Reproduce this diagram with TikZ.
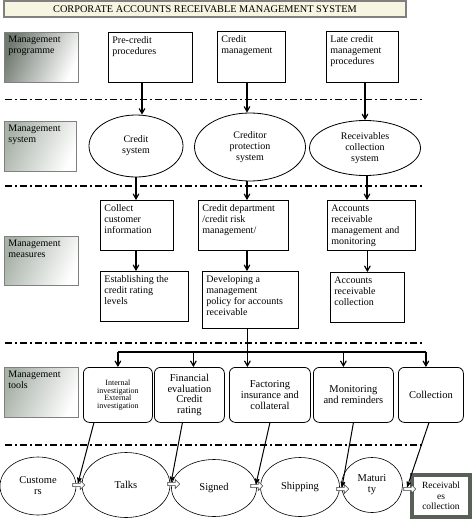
\documentclass[tikz,border=0pt]{standalone}
\usepackage{fontspec}
\setmainfont{Liberation Serif}
\usetikzlibrary{arrows, positioning, shapes}
\definecolor{my_darkgray}{RGB}{112, 122, 112}
\definecolor{my_gray}{RGB}{168, 178, 168}
\definecolor{my_beige}{RGB}{246, 245, 226}
\definecolor{my_frame}{RGB}{88, 96, 88}
\newcommand{\tb}[3]{\parbox[c][#2][t]{#1}{\raggedright #3}}
\tikzset {
  title/.style = {draw=gray, line width=1.2pt, fill=my_beige, rectangle, minimum width=402, minimum height=16, inner sep=0pt, font=\fontsize{10.3}{12}\selectfont},
  headbox/.style = {draw=gray, thick, rectangle, anchor=north west, inner sep=4pt, left color=#1, right color=white, shading angle=65},
  box/.style = {draw, thick, rectangle, fill=white, anchor=north west, inner sep=4pt},
  sys/.style = {draw, thick, ellipse, fill=white, align=center, inner sep=0pt},
  tool/.style = {draw, thick, rounded corners=6pt, rectangle, fill=white, anchor=north west, align=center, inner sep=2pt, minimum height=55, font=\fontsize{10.5}{10.8}\selectfont},
  stage/.style = {draw, semithick, ellipse, fill=white, align=center, inner sep=0pt, font=\fontsize{10.5}{11}\selectfont},
  endbox/.style = {draw=my_frame, line width=3.5pt, rectangle, fill=white, align=center, minimum width=58, minimum height=42, inner sep=1pt, font=\fontsize{9.5}{10.5}\selectfont},
  flow/.style = {draw=black!75, semithick, single arrow, fill=white, minimum height=12pt, minimum width=9pt, single arrow head extend=1.5pt, inner sep=0.5pt},
  line/.style = {->, line width=1.2pt, color=black, >=angle 60},
  diag/.style = {->, line width=1pt, color=black, >=stealth'},
  sep/.style = {line width=1.6pt, dash pattern=on 7pt off 3pt on 2pt off 3pt},
}

\begin{document}
\begin{tikzpicture}[x=1pt, y=-1pt, font=\fontsize{10}{11}\selectfont]
    \useasboundingbox (0,0) rectangle (474,527);

    \node[title] (title) at (205,9) {CORPORATE ACCOUNTS RECEIVABLE MANAGEMENT SYSTEM};

    % separators
    \foreach \y in {99.5,186,343,445}
        \draw[sep] (5,\y) -- (422,\y);

    % management programme
    \node[headbox=my_darkgray] (mprog) at (4,32) {\tb{66pt}{42pt}{Management\\programme}};
    \node[box] (pre) at (108,32) {\tb{76pt}{42pt}{Pre-credit\\procedures}};
    \node[box] (cmgmt) at (217,31) {\tb{60pt}{43pt}{Credit\\management}};
    \node[box] (late) at (326,31) {\tb{64pt}{43pt}{Late credit\\management\\procedures}};

    % management system
    \node[headbox=my_gray] (msys) at (4,121) {\tb{64pt}{42pt}{Management\\system}};
    \node[sys, minimum width=94, minimum height=62] (csys) at (136,146) {Credit\\system};
    \node[sys, minimum width=111, minimum height=68] (cprot) at (250,147) {Creditor\\protection\\system};
    \node[sys, minimum width=111, minimum height=55] (rcsys) at (365,148) {Receivables\\collection\\system};

    \draw[line] ([xshift=6pt]csys.north |- pre.south) -- ([xshift=6pt]csys.north);
    \draw[line] ([xshift=-3pt]cprot.north |- cmgmt.south) -- ([xshift=-3pt]cprot.north);
    \draw[line] (rcsys.north |- late.south) -- (rcsys.north);

    % management measures
    \node[headbox=my_gray] (mmeas) at (4,236) {\tb{66pt}{41pt}{Management\\measures}};
    \node[box] (coll) at (100,200) {\tb{65pt}{42pt}{Collect\\customer\\information}};
    \node[box] (cdep) at (198,200) {\tb{82pt}{42pt}{Credit department\\/credit risk\\management/}};
    \node[box] (armon) at (327,200) {\tb{80pt}{42pt}{Accounts\\receivable\\management and\\monitoring}};
    \node[box] (est) at (100,271) {\tb{80pt}{42pt}{Establishing the\\credit rating\\levels}};
    \node[box] (dev) at (202,271) {\tb{88pt}{49pt}{Developing a\\management\\policy for accounts\\receivable}};
    \node[box] (arcol) at (330,272) {\tb{66pt}{42pt}{Accounts\\receivable\\collection}};

    \draw[line] (csys.south) -- (csys.south |- coll.north);
    \draw[line] ([xshift=-3pt]cprot.south) -- ([xshift=-3pt]cprot.south |- cdep.north);
    \draw[line] ([xshift=2pt]rcsys.south) -- ([xshift=2pt]rcsys.south |- armon.north);
    \draw[line] (csys.south |- coll.south) -- (csys.south |- est.north);
    \draw[line] ([xshift=-3pt]cprot.south |- cdep.south) -- ([xshift=-3pt]cprot.south |- dev.north);
    \draw[line] (arcol.north |- armon.south) -- (arcol.north);

    % management tools
    \node[headbox=my_gray] (mtools) at (4,367) {\tb{66pt}{42pt}{Management\\tools}};
    \node[tool, minimum width=69, font=\fontsize{8}{7.6}\selectfont] (tinv) at (83,367) {Internal\\investigation\\External\\investigation};
    \node[tool, minimum width=70] (tfin) at (154,367) {Financial\\evaluation\\Credit\\rating};
    \node[tool, minimum width=81] (tfact) at (229,367) {Factoring\\insurance and\\collateral};
    \node[tool, minimum width=80] (tmon) at (313,367) {Monitoring\\and reminders};
    \node[tool, minimum width=65] (tcoll) at (398,367) {Collection};

    \coordinate (bus) at (0,352);
    \coordinate (b2) at ([xshift=4pt]tfin.north);
    \coordinate (b4) at ([xshift=-10pt]tmon.north);
    \coordinate (b5) at ([xshift=-5pt]tcoll.north);
    \draw[line, -] (bus -| tinv.north) -- (bus -| b5);
    \draw[line] ([xshift=-3pt]dev.south) -- ([xshift=-3pt]dev.south |- tfact.north);
    \draw[line] (bus -| tinv.north) -- (tinv.north);
    \draw[line] (bus -| b2) -- (b2);
    \draw[line] (bus -| b4) -- (b4);
    \draw[line] (bus -| b5) -- (b5);

    % receivables flow
    \node[stage, minimum width=76, minimum height=58] (cust) at (38,486) {Custome\\rs};
    \node[stage, minimum width=88, minimum height=65] (talks) at (126,485) {Talks};
    \node[stage, minimum width=85, minimum height=57] (signed) at (214,488) {Signed};
    \node[stage, minimum width=79, minimum height=59] (ship) at (300,487) {Shipping};
    \node[stage, minimum width=61, minimum height=55] (mat) at (372,485) {Maturi\\ty};
    \node[endbox] (rcoll) at (441,496) {Receivabl\\es\\collection};

    \node[flow] (f1) at (78,485) {};
    \node[flow] (f2) at (173,484) {};
    \node[flow] (f3) at (256,486) {};
    \node[flow] (f4) at (342,489) {};
    \node[flow] (f5) at (409,489) {};

    \draw[diag] ([xshift=-24pt]tinv.south) -- (f1.north);
    \draw[diag] ([xshift=-7pt]tfin.south) -- (f2.north west);
    \draw[diag] (tfact.south) -- (f3.north);
    \draw[diag] (tmon.south) -- (f4.north);
    \draw[diag] ([xshift=-2pt]tcoll.south) -- (f5.north west);

\end{tikzpicture}
\end{document}
